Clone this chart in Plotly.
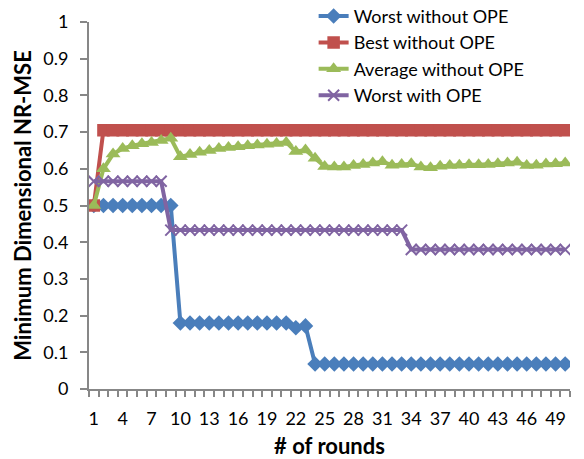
import plotly.graph_objects as go

rounds = list(range(1, 51))

worst_without_ope = [
    0.5, 0.5, 0.5, 0.5, 0.5, 0.5, 0.5, 0.5, 0.5, 0.18,
    0.18, 0.18, 0.18, 0.18, 0.18, 0.18, 0.18, 0.18, 0.18, 0.18,
    0.18, 0.167, 0.172, 0.068, 0.068, 0.068, 0.068, 0.068, 0.068, 0.068,
    0.068, 0.068, 0.068, 0.068, 0.068, 0.068, 0.068, 0.068, 0.068, 0.068,
    0.068, 0.068, 0.068, 0.068, 0.068, 0.068, 0.068, 0.068, 0.068, 0.068,
]

best_without_ope = [
    0.5, 0.705, 0.705, 0.705, 0.705, 0.705, 0.705, 0.705, 0.705, 0.705,
    0.705, 0.705, 0.705, 0.705, 0.705, 0.705, 0.705, 0.705, 0.705, 0.705,
    0.705, 0.705, 0.705, 0.705, 0.705, 0.705, 0.705, 0.705, 0.705, 0.705,
    0.705, 0.705, 0.705, 0.705, 0.705, 0.705, 0.705, 0.705, 0.705, 0.705,
    0.705, 0.705, 0.705, 0.705, 0.705, 0.705, 0.705, 0.705, 0.705, 0.705,
]

average_without_ope = [
    0.5, 0.6, 0.64, 0.655, 0.663, 0.668, 0.672, 0.677, 0.683, 0.633,
    0.639, 0.645, 0.650, 0.655, 0.658, 0.660, 0.663, 0.665, 0.667, 0.669,
    0.672, 0.647, 0.651, 0.629, 0.606, 0.605, 0.605, 0.609, 0.612, 0.616,
    0.619, 0.610, 0.612, 0.614, 0.605, 0.603, 0.607, 0.609, 0.610, 0.611,
    0.611, 0.612, 0.614, 0.616, 0.618, 0.609, 0.610, 0.613, 0.614, 0.616,
]

worst_with_ope = [
    0.566, 0.566, 0.566, 0.566, 0.566, 0.566, 0.566, 0.566, 0.433, 0.433,
    0.433, 0.433, 0.433, 0.433, 0.433, 0.433, 0.433, 0.433, 0.433, 0.433,
    0.433, 0.433, 0.433, 0.433, 0.433, 0.433, 0.433, 0.433, 0.433, 0.433,
    0.433, 0.433, 0.433, 0.38, 0.38, 0.38, 0.38, 0.38, 0.38, 0.38,
    0.38, 0.38, 0.38, 0.38, 0.38, 0.38, 0.38, 0.38, 0.38, 0.38,
]

x_tick_vals = [1, 4, 7, 10, 13, 16, 19, 22, 25, 28, 31, 34, 37, 40, 43, 46, 49]
y_tick_vals = [0, 0.1, 0.2, 0.3, 0.4, 0.5, 0.6, 0.7, 0.8, 0.9, 1]
y_tick_text = ["0", "0.1", "0.2", "0.3", "0.4", "0.5", "0.6", "0.7", "0.8", "0.9", "1"]

FONT = "Lato"
AXIS_GRAY = "#878787"

fig = go.Figure()
fig.add_trace(go.Scatter(
    x=rounds, y=worst_without_ope, name="Worst without OPE", mode="lines+markers",
    line=dict(color="#4A7EBB", width=4),
    marker=dict(symbol="diamond", size=12, color="#4A7EBB"),
))
fig.add_trace(go.Scatter(
    x=rounds, y=best_without_ope, name="Best without OPE", mode="lines+markers",
    line=dict(color="#C0504D", width=4),
    marker=dict(symbol="square", size=12.5, color="#C0504D"),
))
fig.add_trace(go.Scatter(
    x=rounds, y=average_without_ope, name="Average without OPE", mode="lines+markers",
    line=dict(color="#9BBB59", width=4),
    marker=dict(symbol="triangle-up", size=13, color="#9BBB59"),
))
fig.add_trace(go.Scatter(
    x=rounds, y=worst_with_ope, name="Worst with OPE", mode="lines+markers",
    line=dict(color="#8064A2", width=4),
    marker=dict(symbol="x-thin", size=11, color="#8064A2",
                line=dict(color="#8064A2", width=2)),
))

fig.update_layout(
    width=584, height=459,
    margin=dict(l=89, r=14, t=22, b=70, autoexpand=False),
    paper_bgcolor="white", plot_bgcolor="white",
    font=dict(family=FONT, size=18, color="#000000"),
    showlegend=True,
    legend=dict(
        x=0.467, y=1.066, xanchor="left", yanchor="top",
        bgcolor="rgba(0,0,0,0)", borderwidth=0,
        font=dict(family=FONT, size=18, color="#000000"),
        tracegroupgap=0, itemwidth=30,
    ),
)

fig.update_xaxes(
    range=[0.5, 50.5], tickmode="array", tickvals=x_tick_vals,
    ticks="", showgrid=False, zeroline=False, automargin=False,
    showline=True, linecolor=AXIS_GRAY, linewidth=2,
    tickfont=dict(family=FONT, size=18, color="#000000"),
    ticklabelstandoff=12,
    minor=dict(tickmode="linear", tick0=0.5, dtick=1, ticks="outside",
               ticklen=6, tickwidth=2, tickcolor=AXIS_GRAY, showgrid=False),
    title=dict(text="<b># of rounds</b>", font=dict(family=FONT, size=22, color="#000000"),
               standoff=33),
)
fig.update_yaxes(
    range=[0, 1], tickmode="array", tickvals=y_tick_vals, ticktext=y_tick_text,
    ticks="outside", ticklen=7, tickwidth=2, tickcolor=AXIS_GRAY,
    showgrid=False, zeroline=False, automargin=False,
    showline=True, linecolor=AXIS_GRAY, linewidth=2,
    tickfont=dict(family=FONT, size=18, color="#000000"),
    ticklabelstandoff=8,
    title=dict(text="<b>Minimum Dimensional NR-MSE</b>",
               font=dict(family=FONT, size=22, color="#000000"), standoff=6),
)

fig.write_html(
    "out.html",
    config={"displayModeBar": False},
    post_script="document.body.style.margin='0';document.body.style.overflow='hidden';",
)
